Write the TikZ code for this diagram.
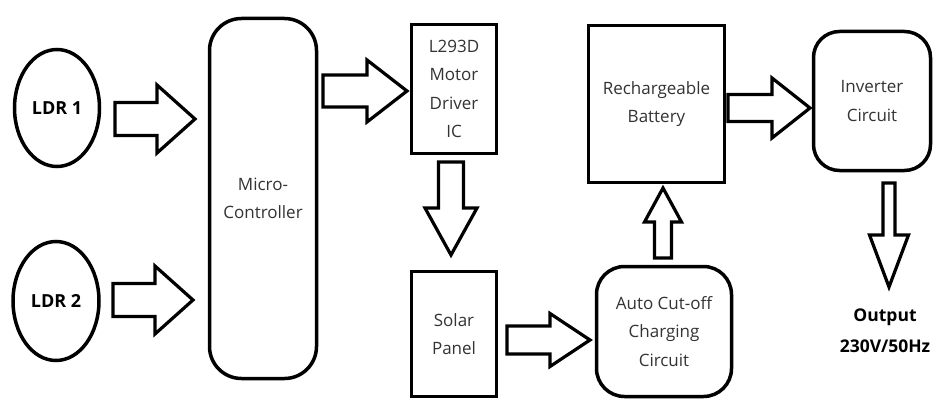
\documentclass[tikz,border=0pt]{standalone}
\usepackage{fontspec}
\setmainfont{Open Sans}
\usetikzlibrary{calc,shapes.geometric}
\newcommand{\fatarrow}[5]{%
  \coordinate (fh) at ($(#2)!#5!(#1)$);
  \draw[fatarr] ($(#1)!#3!90:(#2)$) -- ($(fh)!#3!90:(#2)$) -- ($(fh)!#4!90:(#2)$) -- (#2)
    -- ($(fh)!#4!-90:(#2)$) -- ($(fh)!#3!-90:(#2)$) -- ($(#1)!#3!-90:(#2)$) -- cycle;}
\tikzset{
  box/.style={draw, line width=3.5pt, outer sep=0pt, inner sep=0pt,
    font=\fontsize{17}{28.5}\selectfont, text=black!80, align=center},
  rbox/.style={box, rounded corners=26pt},
  ldr/.style={ellipse, draw, line width=3.5pt, outer sep=0pt, inner sep=0pt,
    font=\bfseries\fontsize{18}{20}\selectfont},
  fatarr/.style={draw, line width=3.2pt, line join=miter, fill=white},
  outtext/.style={font=\bfseries\fontsize{17.5}{31}\selectfont, align=center, inner sep=0pt}
}
\begin{document}
\begin{tikzpicture}[x=1pt,y=-1pt]
\useasboundingbox (0,0) rectangle (934,401);
\fill[white] (0,0) rectangle (934,401);
% nodes
\node[ldr, minimum width=85pt, minimum height=117pt] (ldr1) at (57,108) {LDR 1};
\node[ldr, minimum width=86pt, minimum height=119pt] (ldr2) at (56,301) {LDR 2};
\node[rbox, rounded corners=32pt, minimum width=107pt, minimum height=360pt] (mc) at (263,198.5) {Micro-\\Controller};
\node[box, minimum width=85pt, minimum height=129pt] (drv) at (454,89) {L293D\\Motor\\Driver\\IC};
\node[box, minimum width=85pt, minimum height=125pt] (sol) at (454,334) {Solar\\Panel};
\node[box, minimum width=136pt, minimum height=157pt] (bat) at (656.5,104) {Rechargeable\\Battery};
\node[rbox, minimum width=117pt, minimum height=139pt] (inv) at (872,101) {Inverter\\Circuit};
\node[rbox, rounded corners=28pt, minimum width=135pt, minimum height=130pt] (aut) at (664,331.5) {Auto Cut-off\\Charging\\Circuit};
\node[outtext] (out) at (885,331) {Output\\230V/50Hz};
% connector end points
\coordinate (s1) at ($(ldr1.east)+(15.5,11)$);
\coordinate (e1) at ($(mc.west|-s1)+(-14.5,0)$);
\coordinate (s2) at ($(ldr2.east)+(14,-1)$);
\coordinate (e2) at ($(mc.west|-s2)+(-16.5,0)$);
\coordinate (s3) at ($(mc.east|-drv.west)+(6.5,2)$);
\coordinate (e3) at ($(drv.west)+(-4.5,2)$);
\coordinate (s4) at ($(drv.south)+(-3,8.5)$);
\coordinate (e4) at ($(sol.north)+(-3,-16.5)$);
\coordinate (s5) at ($(sol.east)+(10.5,6)$);
\coordinate (e5) at ($(aut.west|-s5)+(-6.5,0)$);
\coordinate (s6) at ($(bat.east)+(3.5,4)$);
\coordinate (e6) at ($(inv.west|-s6)+(-3.5,0)$);
\coordinate (s7) at ($(aut.north)+(-1,-8.5)$);
\coordinate (e7) at ($(bat.south-|s7)+(0,5.5)$);
\coordinate (s8) at ($(inv.south)+(17,12.5)$);
\coordinate (e8) at ($(s8)+(0,104)$);
% fat arrows
\fatarrow{s1}{e1}{16.5pt}{34pt}{38pt}
\fatarrow{s2}{e2}{16.5pt}{34pt}{38pt}
\fatarrow{s3}{e3}{16pt}{31pt}{40pt}
\fatarrow{s4}{e4}{12.5pt}{26pt}{47pt}
\fatarrow{s5}{e5}{14pt}{26.5pt}{40pt}
\fatarrow{s6}{e6}{13.5pt}{30pt}{38pt}
\fatarrow{s7}{e7}{8.5pt}{18.5pt}{34pt}
\fatarrow{s8}{e8}{6pt}{19.5pt}{52pt}
\end{tikzpicture}
\end{document}
